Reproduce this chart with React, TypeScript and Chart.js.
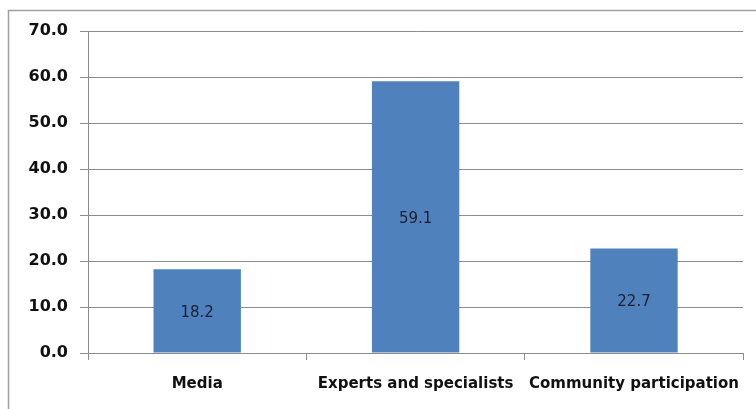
import React, { useEffect, useRef } from "react";
import { Chart, registerables } from "chart.js";

Chart.register(...registerables);

const categories = ["Media", "Experts and specialists", "Community participation"];
const values = [18.2, 59.1, 22.7];
const yMin = 0;
const yMax = 70;
const yStep = 10;

const frameAndLabels = {
  id: "frameAndLabels",
  beforeDraw(chart: any) {
    const ctx = chart.ctx;
    ctx.save();
    ctx.fillStyle = "#ffffff";
    ctx.fillRect(0, 0, chart.width, chart.height);
    ctx.strokeStyle = "#a0a0a0";
    ctx.lineWidth = 1.5;
    ctx.strokeRect(8.5, 10.5, chart.width + 20, chart.height + 20);
    ctx.restore();
  },
  afterDatasetsDraw(chart: any) {
    const ctx = chart.ctx;
    const meta = chart.getDatasetMeta(0);
    ctx.save();
    ctx.font = "15px 'DejaVu Sans'";
    ctx.fillStyle = "#1e1e2e";
    ctx.textAlign = "center";
    ctx.textBaseline = "middle";
    meta.data.forEach((bar: any, i: number) => {
      const v = chart.data.datasets[0].data[i];
      const y = (bar.y + bar.base) / 2;
      ctx.fillText(v.toFixed(1), bar.x, y + 2);
    });
    ctx.restore();
  },
};

export default function App() {
  const ref = useRef<HTMLCanvasElement>(null);
  useEffect(() => {
    if (!ref.current) return;
    const chart = new Chart(ref.current, {
      type: "bar",
      data: {
        labels: categories,
        datasets: [
          {
            data: values,
            backgroundColor: "#4f81bd",
            borderWidth: 0,
            categoryPercentage: 1,
            barPercentage: 0.4,
          },
        ],
      },
      options: {
        responsive: false,
        animation: false,
        layout: { padding: { top: 31, right: 12, left: 0, bottom: 0 } },
        plugins: { legend: { display: false }, tooltip: { enabled: false } },
        scales: {
          x: {
            afterFit: (s: any) => {
              s.height = 409 - 353;
            },
            grid: {
              offset: true,
              drawOnChartArea: false,
              drawTicks: true,
              tickLength: 7,
              color: "#8c8c8c",
            },
            border: { color: "#8c8c8c", width: 1 },
            ticks: {
              autoSkip: false,
              maxRotation: 0,
              minRotation: 0,
              padding: 15,
              color: "#111111",
              font: { family: "'DejaVu Sans'", size: 15, weight: "bold" },
            },
          },
          y: {
            min: yMin,
            max: yMax,
            afterFit: (s: any) => {
              s.width = 88;
            },
            grid: {
              color: "#8c8c8c",
              drawTicks: true,
              tickLength: 8,
            },
            border: { color: "#8c8c8c", width: 1 },
            ticks: {
              stepSize: yStep,
              padding: 12,
              color: "#111111",
              font: { family: "'DejaVu Sans'", size: 16, weight: "bold" },
              callback: (v: any) => Number(v).toFixed(1),
            },
          },
        },
      },
      plugins: [frameAndLabels],
    });
    return () => chart.destroy();
  }, []);
  return (
    <div style={{ position: "fixed", left: 0, top: 0, width: 756, height: 409 }}>
      <canvas ref={ref} width={756} height={409} />
    </div>
  );
}
